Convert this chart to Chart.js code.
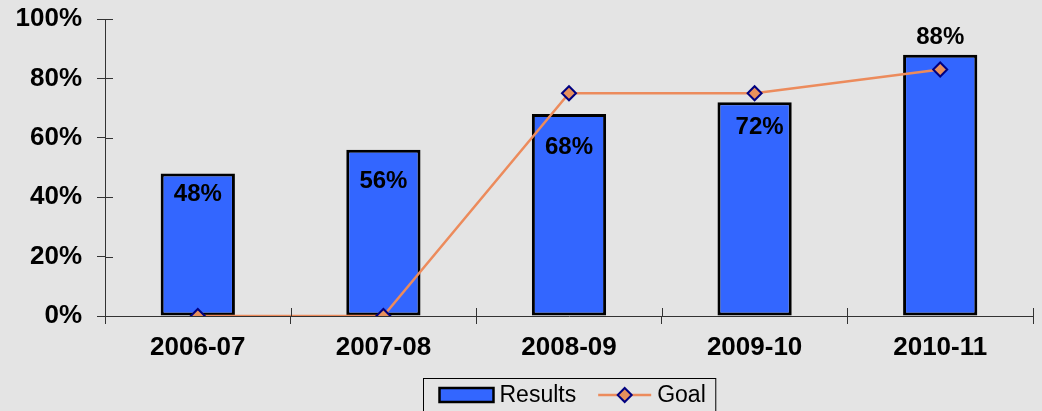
<!DOCTYPE html>
<html>
<head>
<meta charset="utf-8">
<script src="https://cdn.jsdelivr.net/npm/chart.js@4/dist/chart.umd.min.js"></script>
<style>
  html, body { margin: 0; padding: 0; background: #e4e4e4; }
  .canvas-body { width: 1042px; height: 411px; }
</style>
</head>
<body>
<div class="canvas-body"><canvas id="myChart"></canvas></div>
<script>
// data
const years = ['2006-07', '2007-08', '2008-09', '2009-10', '2010-11']
const results = [48, 56, 68, 72, 88]
const goal = [0, 0, 75, 75, 83]
const yTicks = [0, 20, 40, 60, 80, 100]

const font = 'Liberation Sans, Arial, sans-serif'

// value labels, nudged like in the original
const valueLabels = {
  id: 'valueLabels',
  afterDatasetsDraw(chart, args, opts) {
    const ctx = chart.ctx
    const meta = chart.getDatasetMeta(0)
    ctx.save()
    ctx.font = 'bold 24px ' + font
    ctx.fillStyle = '#000'
    ctx.textAlign = 'center'
    ctx.textBaseline = 'middle'
    meta.data.forEach((bar, i) => {
      const off = opts.offsets[i] || [0, 0]
      ctx.fillText(results[i] + '%', bar.x + off[0], bar.y + off[1])
    })
    ctx.restore()
  }
}

// ticks crossing the axes + legend box at bottom
const axisExtras = {
  id: 'axisExtras',
  afterDraw(chart) {
    const ctx = chart.ctx
    const x = chart.scales.x, y = chart.scales.y
    const area = chart.chartArea
    ctx.save()
    ctx.strokeStyle = '#333'
    ctx.lineWidth = 1
    ctx.beginPath()
    y.ticks.forEach((t, i) => {
      const py = Math.round(y.getPixelForTick(i)) + 0.5
      ctx.moveTo(area.left, py)
      ctx.lineTo(area.left + 8, py)
    })
    for (let i = 0; i <= years.length; i++) {
      const px = Math.round(x.left + i * (x.width / years.length)) + 0.5
      ctx.moveTo(px, area.bottom)
      ctx.lineTo(px, area.bottom - 8)
    }
    ctx.stroke()

    // legend
    ctx.font = '23px ' + font
    const wRes = ctx.measureText(chart.data.datasets[0].label).width
    const wGoal = ctx.measureText(chart.data.datasets[1].label).width
    const total = 16 + 54 + 6 + wRes + 22 + 53 + 6 + wGoal + 10
    const left = Math.round((area.left + area.right) / 2 - total / 2) + 0.5
    const top = 378.5
    const mid = 395
    ctx.strokeStyle = '#000'
    ctx.lineWidth = 1
    ctx.strokeRect(left, top, total, 40)

    let cx = left + 16
    ctx.fillStyle = '#3366ff'
    ctx.fillRect(cx, mid - 7, 54, 14)
    ctx.lineWidth = 2.5
    ctx.strokeRect(cx, mid - 7, 54, 14)
    cx += 60
    ctx.fillStyle = '#000'
    ctx.textBaseline = 'middle'
    ctx.textAlign = 'left'
    ctx.fillText(chart.data.datasets[0].label, cx, mid + 1)
    cx += wRes + 22

    ctx.strokeStyle = '#ec8b5c'
    ctx.lineWidth = 2.5
    ctx.beginPath()
    ctx.moveTo(cx, mid)
    ctx.lineTo(cx + 53, mid)
    ctx.stroke()
    const dx = cx + 26.5
    ctx.beginPath()
    ctx.moveTo(dx, mid - 7)
    ctx.lineTo(dx + 7, mid)
    ctx.lineTo(dx, mid + 7)
    ctx.lineTo(dx - 7, mid)
    ctx.closePath()
    ctx.fillStyle = '#e8905c'
    ctx.fill()
    ctx.strokeStyle = '#000080'
    ctx.lineWidth = 2
    ctx.stroke()
    cx += 59
    ctx.fillStyle = '#000'
    ctx.fillText(chart.data.datasets[1].label, cx, mid + 1)
    ctx.restore()
  }
}

const data = {
  labels: years,
  datasets: [{
    type: 'bar',
    label: 'Results',
    data: results,
    backgroundColor: '#3366ff',
    borderColor: '#000',
    borderWidth: 3,
    borderSkipped: false,
    categoryPercentage: 1,
    barPercentage: 0.4,
    order: 2
  }, {
    type: 'line',
    label: 'Goal',
    data: goal,
    borderColor: '#ec8b5c',
    borderWidth: 2.5,
    tension: 0,
    pointStyle: 'rectRot',
    pointRadius: 7,
    pointHoverRadius: 7,
    pointBackgroundColor: '#e8905c',
    pointBorderColor: '#000080',
    pointBorderWidth: 2,
    order: 1
  }]
}

const config = {
  data,
  options: {
    responsive: true,
    maintainAspectRatio: false,
    animation: false,
    layout: { padding: { top: 19, right: 2, left: 0, bottom: 0 } },
    plugins: {
      legend: { display: false },
      tooltip: { enabled: false },
      valueLabels: { offsets: [[0, 21], [0, 32], [0, 33], [5, 25], [0, -17]] }
    },
    scales: {
      x: {
        offset: true,
        grid: { display: true, drawOnChartArea: false, offset: true, tickLength: 8, color: '#333' },
        border: { color: '#333', width: 1 },
        ticks: { color: '#000', padding: 8, font: { family: font, size: 26, weight: 'bold' } },
        afterFit(scale) {
          scale.height = 95
          scale.paddingLeft = 0
          scale.paddingRight = 0
        }
      },
      y: {
        min: 0,
        max: 100,
        afterBuildTicks(scale) { scale.ticks = yTicks.map(v => ({ value: v })) },
        grid: { display: true, drawOnChartArea: false, tickLength: 8, color: '#333' },
        border: { color: '#333', width: 1 },
        ticks: {
          color: '#000',
          padding: 15,
          font: { family: font, size: 26, weight: 'bold' },
          callback: v => v + '%'
        },
        afterFit(scale) {
          scale.width = 105
          scale.paddingTop = 0
          scale.paddingBottom = 0
        }
      }
    }
  },
  plugins: [valueLabels, axisExtras]
}

const myChart = new Chart(document.getElementById('myChart'), config)
</script>
</body>
</html>
